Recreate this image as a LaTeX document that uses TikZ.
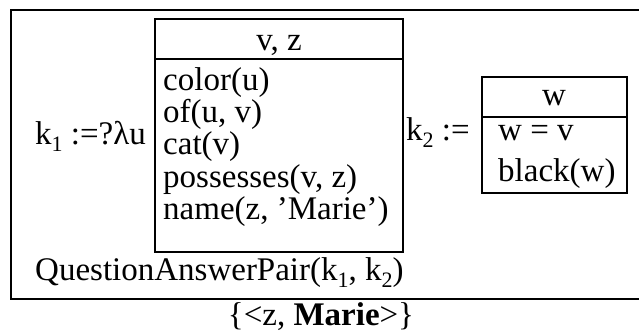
\documentclass[tikz,border=0pt]{standalone}
\usepackage{fontspec}
\setmainfont{Liberation Serif}
\newcommand{\sbs}[1]{\raisebox{-0.22em}{\fontsize{22}{22}\selectfont #1}}
\begin{document}
\begin{tikzpicture}[x=1pt,y=-1pt,
  txt/.style={inner sep=0pt, anchor=base west, font=\fontsize{33}{33}\selectfont},
  ctxt/.style={txt, anchor=base},
  box/.style={draw, line width=1.4pt}]
\useasboundingbox (0,0) rectangle (639,333);
% outer box
\draw[box] (11,10) rectangle (643,299);
% left DRS
\draw[box] (155,19) rectangle (403,252);
\draw[box] (155,59) -- (403,59);
% right DRS
\draw[box] (482,77) rectangle (627,193);
\draw[box] (482,117) -- (627,117);
% texts
\node[txt] (k1) at (35,144) {k\sbs{1} :=?λu};
\node[ctxt] (h1) at (279,50) {v, z};
\node[txt] (c1) at (163,90) {color(u)};
\node[txt] (c2) at (163,122) {of(u, v)};
\node[txt] (c3) at (163,154) {cat(v)};
\node[txt] (c4) at (163,187) {possesses(v, z)};
\node[txt] (c5) at (163,219) {name(z, ’Marie’)};
\node[txt] (k2) at (406,140) {k\sbs{2} :=};
\node[ctxt] (h2) at (554,105) {w};
\node[txt] (d1) at (498,140) {w = v};
\node[txt] (d2) at (498,181) {black(w)};
\node[txt] (qap) at (35,280) {QuestionAnswerPair(k\sbs{1}, k\sbs{2})};
\node[ctxt] (ans) at (321,325) {\{<z, \textbf{Marie}>\}};
\end{tikzpicture}
\end{document}
